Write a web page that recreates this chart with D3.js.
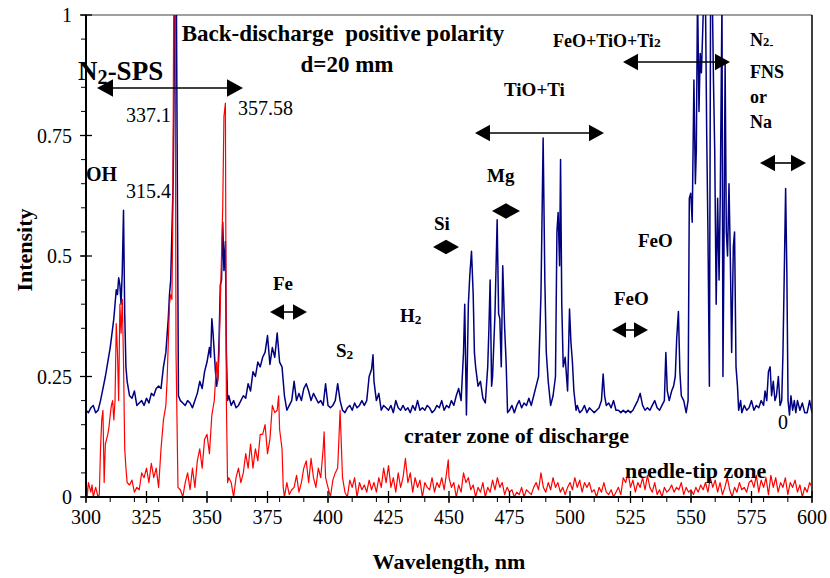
<!DOCTYPE html>
<html><head><meta charset="utf-8">
<script src="https://cdnjs.cloudflare.com/ajax/libs/d3/7.8.5/d3.min.js"></script>
<style>
body{margin:0;background:#fff;}
svg text{font-family:"Liberation Serif","Times New Roman",serif;white-space:pre;}
</style></head>
<body><svg id="c" width="830" height="578"></svg>
<script>
// ---------- DATA ----------
const xTicks = [300,325,350,375,400,425,450,475,500,525,550,575,600];
const yTicks = [0,0.25,0.5,0.75,1];
const yTickLabels = ["0","0.25","0.5","0.75","1"];

// crater zone of discharge (blue)
const craterWl = [300,301,302,303,304,305,306,307,308,309,310,311,311.5,312,312.5,313,313.5,314,314.5,315,315.5,316,316.5,317,318,319,320,321,322,323,324,325,326,327,328,329,330,331,332,333,334,334.5,335,335.5,336,336.8,337.3,337.8,338.2,339,340,341,342,343,344,345,346,347,348,349,350,351,351.5,352,352.5,353,353.5,354,354.5,355,355.5,356,356.5,357,357.6,358,358.5,359,360,361,362,363,364,365,366,367,368,369,370,371,372,373,374,375,376,377,378,379,380,381,382,383,384,385,386,387,388,389,390,391,392,393,394,395,396,397,398,399,400,401,402,403,404,405,406,407,408,409,410,411,412,413,414,415,416,417,418,418.6,419,420,421,422,423,424,425,426,427,428,429,430,431,432,433,434,435,436,437,438,439,440,441,442,443,444,445,446,447,448,449,450,451,452,453,454,455,456,456.5,457.2,458,458.6,459.3,460,460.5,461,462,463,464,465,466,466.5,467,467.6,468,469,469.9,470.5,471,471.6,472.2,473,473.6,474.2,475,476,477,478,479,480,481,482,483,484,485,486,487,488,488.9,489.6,490.2,491,492,493,494,494.6,495.1,495.7,496.1,496.6,497.2,498,499,499.8,500.4,501,501.6,502.5,503,504,505,506,507,508,509,510,511,512,513,513.7,514.3,515,516,517,518,519,520,521,522,523,524,525,526,527,528,529,530,531,532,533,534,535,536,537,538,539,539.6,540.2,541,542,542.8,543.5,544.1,544.8,545.4,546,547,548,548.8,549.3,549.9,550.5,551.2,551.8,552.2,552.7,553.3,553.8,554.3,554.8,555.3,556,556.5,557,557.6,558.1,558.8,559.3,559.8,560.4,561,561.6,562.1,562.8,563.2,563.6,564.1,564.6,565.1,565.7,566.3,566.8,567.5,568,568.6,569.2,569.7,570.5,571,572,573,574,575,576,577,578,579,580,580.6,581.3,582,582.7,583.3,584,584.7,585.3,586.1,586.8,587.5,588,588.5,589.1,589.6,590.1,590.7,591.3,592,592.7,593.3,594,595,596,597,598,599,600];
const craterVal = [0.18,0.175,0.185,0.19,0.175,0.18,0.2,0.225,0.25,0.28,0.31,0.35,0.37,0.4,0.43,0.42,0.455,0.44,0.4,0.47,0.595,0.38,0.27,0.24,0.21,0.205,0.22,0.19,0.195,0.2,0.19,0.205,0.195,0.215,0.21,0.225,0.23,0.225,0.27,0.3,0.37,0.42,0.45,0.55,0.65,1.05,1.08,0.6,0.21,0.2,0.195,0.19,0.2,0.195,0.185,0.2,0.215,0.24,0.225,0.26,0.28,0.31,0.29,0.37,0.34,0.3,0.26,0.23,0.25,0.33,0.44,0.45,0.57,0.47,0.53,0.3,0.2,0.21,0.19,0.2,0.185,0.19,0.2,0.21,0.205,0.235,0.22,0.26,0.25,0.28,0.27,0.29,0.3,0.335,0.275,0.31,0.29,0.34,0.28,0.27,0.21,0.18,0.19,0.2,0.24,0.2,0.215,0.2,0.225,0.235,0.22,0.2,0.215,0.205,0.195,0.2,0.19,0.235,0.19,0.185,0.19,0.2,0.235,0.2,0.18,0.175,0.185,0.19,0.18,0.195,0.185,0.19,0.2,0.19,0.2,0.25,0.265,0.295,0.24,0.2,0.215,0.18,0.19,0.185,0.18,0.19,0.175,0.2,0.185,0.18,0.19,0.18,0.185,0.175,0.19,0.18,0.2,0.18,0.185,0.18,0.19,0.185,0.175,0.18,0.19,0.185,0.2,0.18,0.19,0.185,0.2,0.19,0.21,0.225,0.2,0.3,0.4,0.17,0.4,0.46,0.51,0.42,0.3,0.27,0.23,0.24,0.205,0.195,0.27,0.35,0.45,0.23,0.25,0.38,0.575,0.38,0.37,0.27,0.48,0.35,0.28,0.175,0.18,0.19,0.175,0.19,0.2,0.185,0.195,0.19,0.205,0.19,0.21,0.23,0.25,0.42,0.745,0.45,0.3,0.24,0.19,0.21,0.25,0.55,0.59,0.48,0.7,0.4,0.27,0.29,0.22,0.39,0.32,0.28,0.22,0.18,0.19,0.175,0.18,0.19,0.175,0.185,0.18,0.175,0.18,0.185,0.2,0.255,0.21,0.19,0.195,0.185,0.2,0.18,0.18,0.175,0.18,0.175,0.18,0.175,0.18,0.19,0.2,0.215,0.19,0.18,0.185,0.18,0.19,0.2,0.185,0.18,0.19,0.2,0.3,0.22,0.2,0.22,0.23,0.25,0.33,0.385,0.26,0.21,0.2,0.175,0.2,0.62,0.63,0.57,0.865,0.65,0.72,1.05,0.8,0.92,0.88,0.96,1.05,1.02,0.75,0.55,0.23,1.05,1.04,0.86,0.72,0.4,0.62,0.45,0.63,1.03,0.25,0.5,0.9,0.55,0.5,0.65,0.48,0.3,0.52,0.55,0.27,0.23,0.18,0.2,0.175,0.19,0.18,0.185,0.2,0.18,0.19,0.185,0.2,0.19,0.22,0.2,0.26,0.27,0.21,0.24,0.2,0.21,0.25,0.19,0.2,0.3,0.45,0.64,0.47,0.2,0.17,0.21,0.18,0.2,0.175,0.2,0.18,0.195,0.175,0.175,0.2,0.175];

// needle-tip zone (red)
const needleWl = [300,300.5,301,302,302.5,303,304,305,305.5,306,306.5,307,307.5,308,309,309.5,310,310.5,311,311.5,312,312.5,313,313.5,314,314.5,315,315.5,316,316.5,317,318,319,320,321,322,323,324,325,326,327,328,329,330,331,332,333,333.5,334,334.5,335,335.5,335.9,336.3,336.8,337.2,338,339,340,341,342,343,344,345,346,347,348,349,350,351,352,353,354,354.5,355,355.5,356,356.5,357,357.6,358,358.5,359,360,361,362,363,364,365,366,367,368,369,370,371,372,373,374,375,376,377,378,379,379.6,380,381,381.5,382,383,384,385,386,387,388,389,390,391,392,393,394,395,396,397,398,398.4,399,400,401,402,403,404,404.5,405,405.5,406,407,408,409,410,411,412,413,414,415,416,417,418,419,420,421,422,423,424,425,426,427,428,429,430,431,432,433,434,435,436,437,438,439,440,441,442,443,444,445,446,447,448,449,449.7,450,451,452,453,454,455,456,457,458,459,460,461,462,463,464,465,466,467,468,469,470,471,472,473,474,475,476,477,478,479,480,481,482,483,484,485,486,487,488,489,490,491,492,493,494,495,496,497,498,499,500,501,502,503,504,505,506,507,508,509,510,511,512,513,514,515,516,517,518,519,520,521,522,523,524,525,526,527,528,529,530,531,532,533,534,535,536,537,538,539,540,541,542,543,544,545,546,547,548,549,550,551,552,553,554,555,556,557,558,559,560,561,562,563,564,565,566,567,568,569,570,571,572,573,574,575,576,577,578,579,580,581,582,583,584,585,586,587,588,589,590,591,592,593,594,595,596,597,598,599,600];
const needleVal = [0.04,0,0.03,0.01,0.025,0,0.02,0,0.005,0.1,0.16,0.18,0.03,0.11,0.13,0.145,0.17,0.19,0.2,0.16,0.2,0.36,0.3,0.2,0.4,0.34,0.41,0.28,0.1,0.06,0.03,0.025,0.035,0.01,0.02,0.015,0.05,0.04,0.06,0.03,0.07,0.04,0.06,0.02,0.1,0.16,0.19,0.24,0.32,0.4,0.42,0.41,0.6,1.1,1.1,0.3,0.02,0.015,0,0.03,0.05,0.015,0.06,0.02,0.075,0.1,0.06,0.12,0.13,0.09,0.17,0.2,0.28,0.24,0.3,0.4,0.5,0.6,0.79,0.817,0.2,0.03,0.04,0.03,0,0.04,0.06,0.03,0.05,0.09,0.06,0.11,0.06,0.1,0.075,0.13,0.13,0.15,0.09,0.12,0.19,0.175,0.18,0.21,0.14,0.1,0.02,0,0.03,0.005,0.015,0.02,0.045,0.01,0.03,0.06,0.075,0.03,0.08,0.04,0.02,0.06,0.04,0.1,0.135,0.04,0.02,0,0.035,0.05,0.06,0.12,0.18,0.11,0.04,0.01,0,0.035,0.02,0.04,0,0.03,0.015,0.025,0.01,0.035,0.015,0.03,0.01,0.04,0.02,0.06,0.03,0.065,0.02,0.04,0.01,0.05,0.02,0.04,0.08,0.03,0.05,0.01,0.04,0.02,0.035,0,0.03,0.02,0.015,0.04,0.01,0.03,0.02,0.04,0.015,0.05,0.077,0.04,0.02,0.03,0,0.025,0.01,0.05,0.03,0.04,0.015,0.025,0,0.02,0.01,0.03,0,0.02,0.01,0.035,0.015,0.04,0.02,0.03,0.005,0.02,0.01,0.015,0,0.01,0.005,0.02,0,0.015,0.01,0.005,0.02,0.03,0.015,0.05,0.02,0.01,0.03,0.015,0.04,0.02,0.03,0.01,0.02,0.005,0.02,0.03,0.015,0.04,0.02,0.035,0.01,0.03,0.02,0.03,0.01,0.015,0,0.02,0.01,0.03,0.01,0.005,0.015,0,0.01,0.02,0.005,0.04,0.03,0.05,0.02,0.035,0.01,0.03,0.02,0.04,0.015,0.045,0.02,0.01,0.03,0.005,0.015,0,0.02,0.01,0.015,0.025,0.01,0.02,0.015,0.03,0.005,0.02,0.01,0.015,0.005,0.02,0.01,0.025,0.015,0.03,0.01,0.04,0.02,0.035,0.01,0.03,0.005,0.02,0.04,0.015,0,0.02,0.01,0.03,0.015,0.02,0.01,0.03,0.035,0.02,0.045,0.01,0.035,0.02,0.04,0.005,0.045,0.02,0.04,0.01,0.03,0.02,0.04,0.005,0.03,0.02,0.035,0.01,0.025,0,0.02,0.01,0.03,0.02];

// ---------- CHART ----------
const svg = d3.select("#c");
const L = 86, R = 812, T = 15, B = 497;
const x = d3.scaleLinear().domain([300,600]).range([L,R]);
const y = d3.scaleLinear().domain([0,1]).range([B,T]);

svg.append("defs").append("clipPath").attr("id","clip")
  .append("rect").attr("x",L).attr("y",T).attr("width",R-L).attr("height",B-T);

// frame (top gray, right black)
svg.append("line").attr("x1",L).attr("x2",R).attr("y1",T).attr("y2",T).attr("stroke","#808080").attr("stroke-width",1.5);
svg.append("line").attr("x1",R).attr("x2",R).attr("y1",T).attr("y2",B).attr("stroke","#000").attr("stroke-width",1.5);

const line = d3.line().x(d=>x(d[0])).y(d=>y(d[1]));
const g = svg.append("g").attr("clip-path","url(#clip)");
g.append("path").datum(craterWl.map((w,i)=>[w,craterVal[i]]))
  .attr("d",line).attr("fill","none").attr("stroke","#000080").attr("stroke-width",1.5).attr("stroke-linejoin","round");
g.append("path").datum(needleWl.map((w,i)=>[w,needleVal[i]]))
  .attr("d",line).attr("fill","none").attr("stroke","#ff0000").attr("stroke-width",1.2).attr("stroke-linejoin","round");

// axes
const xMinor = d3.range(300,601,10);
const yMinor = d3.range(0,1.0001,0.05);
const ax = svg.append("g");
ax.selectAll(".xm").data(xMinor).join("line").attr("x1",d=>x(d)).attr("x2",d=>x(d)).attr("y1",B).attr("y2",B+5).attr("stroke","#000").attr("stroke-width",1);
ax.selectAll(".xM").data(xTicks).join("line").attr("x1",d=>x(d)).attr("x2",d=>x(d)).attr("y1",B-6).attr("y2",B+6).attr("stroke","#000").attr("stroke-width",1.3);
ax.selectAll(".ym").data(yMinor).join("line").attr("x1",L-5).attr("x2",L).attr("y1",d=>y(d)).attr("y2",d=>y(d)).attr("stroke","#000").attr("stroke-width",1);
ax.selectAll(".yM").data(yTicks).join("line").attr("x1",L-6).attr("x2",L+6).attr("y1",d=>y(d)).attr("y2",d=>y(d)).attr("stroke","#000").attr("stroke-width",1.3);
ax.append("line").attr("x1",L).attr("x2",R).attr("y1",B).attr("y2",B).attr("stroke","#000").attr("stroke-width",2);
ax.append("line").attr("x1",L).attr("x2",L).attr("y1",T).attr("y2",B).attr("stroke","#000").attr("stroke-width",2);

ax.selectAll(".xl").data(xTicks).join("text").attr("x",d=>x(d)).attr("y",524)
  .attr("text-anchor","middle").attr("font-size",20).text(d=>d);
ax.selectAll(".yl").data(yTicks).join("text").attr("x",72).attr("y",d=>y(d)+7)
  .attr("text-anchor","end").attr("font-size",20).text((d,i)=>yTickLabels[i]);

svg.append("text").attr("x",449).attr("y",569).attr("text-anchor","middle").attr("font-size",22).attr("font-weight","bold").text("Wavelength, nm");
svg.append("text").attr("transform","translate(32,250) rotate(-90)").attr("text-anchor","middle").attr("font-size",22).attr("font-weight","bold").text("Intensity");

// annotations
function txt(xp,yp,s,opt={}){
  const size = opt.size||19;
  const t = svg.append("text").attr("x",xp).attr("y",yp).attr("font-size",size)
   .attr("font-weight",opt.bold===false?"normal":"bold").attr("text-anchor",opt.anchor||"start");
  if(Array.isArray(s)){
    s.forEach(p=>{const ts=t.append("tspan").text(p.t);
      if(p.sm) ts.attr("font-size",size*p.sm);
      if(p.dy) ts.attr("dy",p.dy);});
  } else t.text(s);
  return t;
}
function arrow(x1,x2,yy,h){
  h = h||14;
  const w = h*0.55;
  svg.append("line").attr("x1",x1+h*0.6).attr("x2",x2-h*0.6).attr("y1",yy).attr("y2",yy).attr("stroke","#000").attr("stroke-width",1.6);
  svg.append("path").attr("d",`M${x1},${yy}L${x1+h},${yy-w}L${x1+h},${yy+w}Z`).attr("fill","#000");
  svg.append("path").attr("d",`M${x2},${yy}L${x2-h},${yy-w}L${x2-h},${yy+w}Z`).attr("fill","#000");
}

txt(343,41,"Back-discharge  positive polarity",{anchor:"middle",size:23});
txt(347,72,"d=20 mm",{anchor:"middle",size:23});
txt(78,80,[{t:"N"},{t:"2",sm:0.75,dy:4},{t:"-SPS",dy:-4}],{size:27});
arrow(97,243,88,16);
txt(126,122,"337.1",{bold:false,size:20});
txt(238,115,"357.58",{bold:false,size:20});
txt(86,181,"OH",{size:20});
txt(126,198,"315.4",{bold:false,size:20});
txt(273,290,"Fe",{size:19});
arrow(270,307,312,14);
txt(336,357,[{t:"S"},{t:"2",sm:0.7,dy:2}],{size:19});
txt(400,322,[{t:"H"},{t:"2",sm:0.7,dy:2}],{size:19});
txt(434,230,"Si",{size:19});
arrow(433,459,247,13);
txt(487,182,"Mg",{size:19});
arrow(492,520,211,14);
txt(504,96,"TiO+Ti",{size:19});
arrow(475,604,133,15);
txt(553,47,[{t:"FeO+TiO+Ti"},{t:"2",sm:0.75}],{size:18});
arrow(623,730,62,15);
txt(750,46,[{t:"N"},{t:"2",sm:0.7},{t:"-",sm:0.7,dy:3}],{size:18});
txt(750,78,"FNS",{size:18});
txt(750,103,"or",{size:18});
txt(750,128,"Na",{size:18});
arrow(760,806,163,15);
txt(638,247,"FeO",{size:19});
txt(614,305,"FeO",{size:19});
arrow(612,648,330,14);
txt(404,443,"crater zone of discharge",{size:22});
txt(625,478,"needle-tip zone",{size:22});
txt(778,429,"0",{bold:false,size:20});
</script></body></html>
